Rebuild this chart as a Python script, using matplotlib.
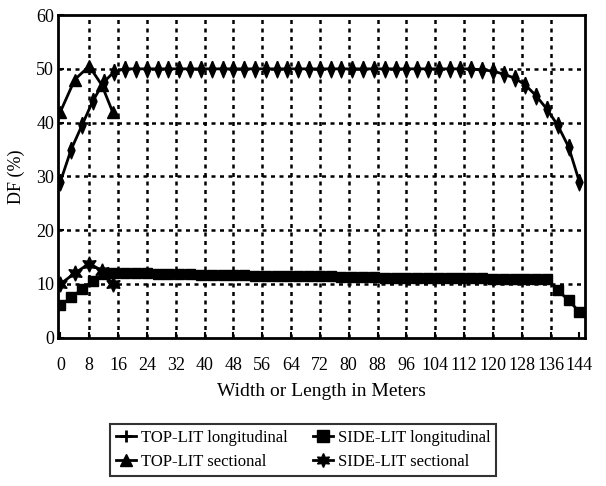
import matplotlib
matplotlib.use("Agg")
import matplotlib.pyplot as plt
from matplotlib.lines import Line2D
import numpy as np

# ---- data ----
x_long = [0, 3, 6, 9, 12, 15, 18, 21, 24, 27, 30, 33, 36, 39, 42, 45, 48, 51, 54, 57,
          60, 63, 66, 69, 72, 75, 78, 81, 84, 87, 90, 93, 96, 99, 102, 105, 108, 111,
          114, 117, 120, 123, 126, 129, 132, 135, 138, 141, 144]
top_long = [29, 35, 39.5, 44, 47.5, 49.5, 50, 50, 50, 50, 50, 50, 50, 50, 50, 50, 50, 50,
            50, 50, 50, 50, 50, 50, 50, 50, 50, 50, 50, 50, 50, 50, 50, 50, 50, 50, 50,
            50, 50, 49.8, 49.6, 49, 48.3, 47, 45, 42.5, 39.5, 35.5, 29]
side_long = [6, 7.5, 9, 10.5, 11.8, 12, 12, 12, 12, 11.9, 11.9, 11.8, 11.8, 11.7, 11.7,
             11.6, 11.6, 11.6, 11.5, 11.5, 11.5, 11.5, 11.4, 11.4, 11.4, 11.4, 11.3, 11.3,
             11.3, 11.3, 11.2, 11.2, 11.2, 11.2, 11.2, 11.1, 11.1, 11.1, 11.1, 11.1, 11,
             11, 11, 11, 11, 11, 8.8, 7, 4.8]
x_sect = [0, 4, 8, 11.5, 14.5]
top_sect = [42, 48, 50.5, 47, 42]
side_sect = [10, 12, 13.8, 12.5, 10]

xticks = [0, 8, 16, 24, 32, 40, 48, 56, 64, 72, 80, 88, 96, 104, 112, 120, 128, 136, 144]
yticks = [0, 10, 20, 30, 40, 50, 60]

plt.rcParams['font.family'] = ['Liberation Serif', 'DejaVu Serif']

fig = plt.figure(figsize=(6.06, 4.86), dpi=100)
ax = fig.add_axes([0.096, 0.305, 0.869, 0.664])

grid_kw = dict(color='black', lw=1.8, dashes=(1.6, 1.8), zorder=1)
for gx in xticks[1:-1]:
    ax.axvline(gx, **grid_kw)
for gy in yticks[1:-1]:
    ax.axhline(gy, **grid_kw)

thin = [(0, 1), (0.42, 0), (0, -1), (-0.42, 0), (0, 1)]
ax.plot(x_long, top_long, color='black', lw=2, marker=thin, ms=12, mfc='black', mec='black', zorder=3)
ax.plot(x_sect, top_sect, color='black', lw=2, marker='^', ms=9, zorder=3)
ax.plot(x_long, side_long, color='black', lw=2, marker='s', ms=7, zorder=3)
ax.plot(x_sect, side_sect, color='black', lw=2, marker=(6, 1, 0), ms=11, zorder=3)

ax.set_xlim(-0.6, 145.5)
ax.set_ylim(0, 60)
ax.set_xticks(xticks)
ax.set_yticks(yticks)
ax.tick_params(axis='both', direction='in', length=4, width=1.5, labelsize=13)
ax.tick_params(axis='x', pad=14)
ax.tick_params(axis='y', pad=3)
for s in ax.spines.values():
    s.set_linewidth(2)

ax.set_xlabel('Width or Length in Meters', fontsize=14, labelpad=6)
ax.set_ylabel('DF (%)', fontsize=13, labelpad=8)

handles = [
    Line2D([], [], color='black', lw=2, marker='+', ms=9, mew=2),
    Line2D([], [], color='black', lw=2, marker='^', ms=8),
    Line2D([], [], color='black', lw=2, marker='s', ms=8),
    Line2D([], [], color='black', lw=2, marker=(6, 1, 0), ms=10),
]
labels = ['TOP-LIT longitudinal', 'TOP-LIT sectional', 'SIDE-LIT longitudinal', 'SIDE-LIT sectional']
leg = fig.legend(handles, labels, ncol=2, loc='center', bbox_to_anchor=(0.5, 0.074),
                 fontsize=12, frameon=True, fancybox=False, edgecolor='black',
                 handlelength=1.2, handletextpad=0.3, columnspacing=1.5,
                 labelspacing=0.5, borderpad=0.35)
leg.get_frame().set_linewidth(1.5)

fig.savefig('out.png', dpi=100)
